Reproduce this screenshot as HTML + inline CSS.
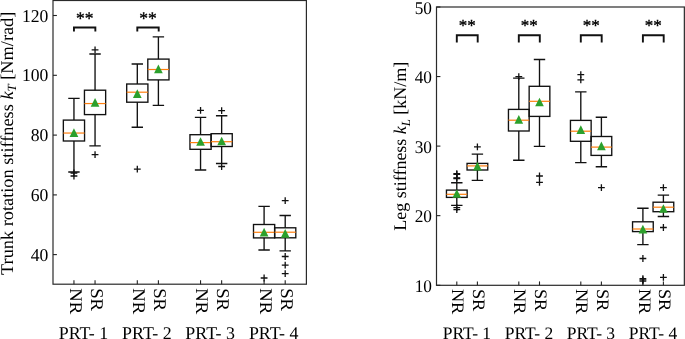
<!DOCTYPE html>
<html><head><meta charset="utf-8"><title>Stiffness box plots</title>
<style>
html,body{margin:0;padding:0;background:#fff;}
body{width:685px;height:339px;overflow:hidden;}
svg{display:block;will-change:transform;font-family:"Liberation Serif",serif;fill:#000;text-rendering:geometricPrecision;}
.a{fill:none;stroke:#2a2a2a;stroke-width:1.2;}
.t{fill:none;stroke:#222;stroke-width:1.1;}
.k{fill:none;stroke:#111;stroke-width:1.35;}
.m{fill:none;stroke:#ff7f0e;stroke-width:1.2;}
.f{fill:none;stroke:#111;stroke-width:1.3;}
.g{fill:#2ca02c;stroke:none;}
.b{fill:none;stroke:#111;stroke-width:1.9;}
</style></head>
<body>
<svg width="685" height="339" viewBox="0 0 685 339">
<rect x="53.0" y="0.5" width="253.39999999999998" height="283.7" class="a"/>
<path d="M53.0 15.5h3.9" class="t"/>
<text transform="translate(48.4,21.6) scale(0.985,1.01)" text-anchor="end" font-size="17.9">120</text>
<path d="M53.0 75.3h3.9" class="t"/>
<text transform="translate(48.4,81.39999999999999) scale(0.985,1.01)" text-anchor="end" font-size="17.9">100</text>
<path d="M53.0 135.1h3.9" class="t"/>
<text transform="translate(48.4,141.2) scale(0.985,1.01)" text-anchor="end" font-size="17.9">80</text>
<path d="M53.0 194.9h3.9" class="t"/>
<text transform="translate(48.4,201.0) scale(0.985,1.01)" text-anchor="end" font-size="17.9">60</text>
<path d="M53.0 254.6h3.9" class="t"/>
<text transform="translate(48.4,260.7) scale(0.985,1.01)" text-anchor="end" font-size="17.9">40</text>
<path d="M73.95 284.2v-3.9" class="t"/>
<text transform="translate(69.55,288.2) rotate(90) scale(1.045,1)" font-size="17.9">NR</text>
<path d="M95.05 284.2v-3.9" class="t"/>
<text transform="translate(90.64999999999999,288.2) rotate(90) scale(1.045,1)" font-size="17.9">SR</text>
<path d="M137.3 284.2v-3.9" class="t"/>
<text transform="translate(132.9,288.2) rotate(90) scale(1.045,1)" font-size="17.9">NR</text>
<path d="M158.4 284.2v-3.9" class="t"/>
<text transform="translate(154.0,288.2) rotate(90) scale(1.045,1)" font-size="17.9">SR</text>
<path d="M200.55 284.2v-3.9" class="t"/>
<text transform="translate(196.15,288.2) rotate(90) scale(1.045,1)" font-size="17.9">NR</text>
<path d="M221.65 284.2v-3.9" class="t"/>
<text transform="translate(217.25,288.2) rotate(90) scale(1.045,1)" font-size="17.9">SR</text>
<path d="M264.1 284.2v-3.9" class="t"/>
<text transform="translate(259.70000000000005,288.2) rotate(90) scale(1.045,1)" font-size="17.9">NR</text>
<path d="M285.2 284.2v-3.9" class="t"/>
<text transform="translate(280.8,288.2) rotate(90) scale(1.045,1)" font-size="17.9">SR</text>
<text x="83.5" y="338.85" text-anchor="middle" font-size="17.9">PRT- 1</text>
<text x="146.85000000000002" y="338.85" text-anchor="middle" font-size="17.9">PRT- 2</text>
<text x="210.10000000000002" y="338.85" text-anchor="middle" font-size="17.9">PRT- 3</text>
<text x="273.65" y="338.85" text-anchor="middle" font-size="17.9">PRT- 4</text>
<text transform="translate(12.7,143.3) rotate(-90) scale(1.023,1)" text-anchor="middle" font-size="17.9">Trunk rotation stiffness <tspan font-style="italic">k</tspan><tspan font-style="italic" font-size="12.529999999999998" dy="3.5">T</tspan><tspan dy="-3.5"> [Nm/rad]</tspan></text>
<path d="M73.95 120.1V98.3M73.95 141.0V172.0M68.25 98.3H79.65M68.25 172.0H79.65" class="k"/>
<rect x="63.35" y="120.1" width="21.20" height="20.90" class="k"/>
<path d="M63.35 133.05H84.55" class="m"/>
<path d="M70.55 173.0H77.35000000000001M73.95 169.6V176.4" class="f"/>
<path d="M70.55 176.0H77.35000000000001M73.95 172.6V179.4" class="f"/>
<path d="M73.95 128.35L78.3 137.04999999999998H69.60000000000001Z" class="g"/>
<path d="M95.05 90.2V54.0M95.05 114.6V145.9M89.35 54.0H100.75M89.35 145.9H100.75" class="k"/>
<rect x="84.45" y="90.2" width="21.20" height="24.40" class="k"/>
<path d="M84.45 103.55H105.65" class="m"/>
<path d="M91.64999999999999 49.8H98.45M95.05 46.4V53.199999999999996" class="f"/>
<path d="M91.64999999999999 154.6H98.45M95.05 151.2V158.0" class="f"/>
<path d="M95.05 97.95L99.39999999999999 106.64999999999999H90.7Z" class="g"/>
<path d="M137.3 84.0V64.0M137.3 102.2V127.2M131.60000000000002 64.0H143.0M131.60000000000002 127.2H143.0" class="k"/>
<rect x="126.70" y="84.0" width="21.20" height="18.20" class="k"/>
<path d="M126.70 92.2H147.90" class="m"/>
<path d="M133.9 169.2H140.70000000000002M137.3 165.79999999999998V172.6" class="f"/>
<path d="M137.3 89.35000000000001L141.65 98.05H132.95000000000002Z" class="g"/>
<path d="M158.4 59.1V36.8M158.4 79.9V105.4M152.70000000000002 36.8H164.1M152.70000000000002 105.4H164.1" class="k"/>
<rect x="147.80" y="59.1" width="21.20" height="20.80" class="k"/>
<path d="M147.80 69.5H169.00" class="m"/>
<path d="M158.4 64.45L162.75 73.14999999999999H154.05Z" class="g"/>
<path d="M200.55 134.7V117.4M200.55 149.3V170.0M194.85000000000002 117.4H206.25M194.85000000000002 170.0H206.25" class="k"/>
<rect x="189.95" y="134.7" width="21.20" height="14.60" class="k"/>
<path d="M189.95 142.6H211.15" class="m"/>
<path d="M197.15 110.3H203.95000000000002M200.55 106.89999999999999V113.7" class="f"/>
<path d="M200.55 137.15L204.9 145.85H196.20000000000002Z" class="g"/>
<path d="M221.65 133.7V115.7M221.65 146.5V163.5M215.95000000000002 115.7H227.35M215.95000000000002 163.5H227.35" class="k"/>
<rect x="211.05" y="133.7" width="21.20" height="12.80" class="k"/>
<path d="M211.05 141.7H232.25" class="m"/>
<path d="M218.25 110.7H225.05M221.65 107.3V114.10000000000001" class="f"/>
<path d="M218.25 166.5H225.05M221.65 163.1V169.9" class="f"/>
<path d="M221.65 136.65L226.0 145.35H217.3Z" class="g"/>
<path d="M264.1 224.5V206.3M264.1 237.9V250.0M258.40000000000003 206.3H269.8M258.40000000000003 250.0H269.8" class="k"/>
<rect x="253.50" y="224.5" width="21.20" height="13.40" class="k"/>
<path d="M253.50 232.3H274.70" class="m"/>
<path d="M260.70000000000005 278.0H267.5M264.1 274.6V281.4" class="f"/>
<path d="M264.1 227.75L268.45000000000005 236.45H259.75Z" class="g"/>
<path d="M285.2 227.8V215.5M285.2 237.8V250.8M279.5 215.5H290.9M279.5 250.8H290.9" class="k"/>
<rect x="274.60" y="227.8" width="21.20" height="10.00" class="k"/>
<path d="M274.60 232.2H295.80" class="m"/>
<path d="M281.8 200.7H288.59999999999997M285.2 197.29999999999998V204.1" class="f"/>
<path d="M281.8 256.5H288.59999999999997M285.2 253.1V259.9" class="f"/>
<path d="M281.8 265.1H288.59999999999997M285.2 261.70000000000005V268.5" class="f"/>
<path d="M281.8 273.6H288.59999999999997M285.2 270.20000000000005V277.0" class="f"/>
<path d="M285.2 228.95000000000002L289.55 237.65H280.84999999999997Z" class="g"/>
<path d="M73.95 31.6V27.5H95.35V31.6" class="b"/><text x="84.65" y="24.2" text-anchor="middle" font-size="17.5" stroke="#000" stroke-width="0.35">**</text>
<path d="M137.3 31.6V27.5H158.70000000000002V31.6" class="b"/><text x="148.0" y="24.2" text-anchor="middle" font-size="17.5" stroke="#000" stroke-width="0.35">**</text>
<rect x="436.5" y="7.0" width="247.85000000000002" height="278.3" class="a"/>
<path d="M436.5 7.0h3.9" class="t"/>
<text transform="translate(432.0,13.6) scale(0.99,1.02)" text-anchor="end" font-size="17.5">50</text>
<path d="M436.5 76.55h3.9" class="t"/>
<text transform="translate(432.0,83.14999999999999) scale(0.99,1.02)" text-anchor="end" font-size="17.5">40</text>
<path d="M436.5 146.1h3.9" class="t"/>
<text transform="translate(432.0,152.7) scale(0.99,1.02)" text-anchor="end" font-size="17.5">30</text>
<path d="M436.5 215.65h3.9" class="t"/>
<text transform="translate(432.0,222.25) scale(0.99,1.02)" text-anchor="end" font-size="17.5">20</text>
<path d="M436.5 285.3h3.9" class="t"/>
<text transform="translate(432.0,291.90000000000003) scale(0.99,1.02)" text-anchor="end" font-size="17.5">10</text>
<path d="M456.8 285.3v-3.9" class="t"/>
<text transform="translate(452.40000000000003,288.90000000000003) rotate(90) scale(1.045,1)" font-size="17.5">NR</text>
<path d="M477.4 285.3v-3.9" class="t"/>
<text transform="translate(473.0,288.90000000000003) rotate(90) scale(1.045,1)" font-size="17.5">SR</text>
<path d="M518.8 285.3v-3.9" class="t"/>
<text transform="translate(514.4,288.90000000000003) rotate(90) scale(1.045,1)" font-size="17.5">NR</text>
<path d="M539.5 285.3v-3.9" class="t"/>
<text transform="translate(535.1,288.90000000000003) rotate(90) scale(1.045,1)" font-size="17.5">SR</text>
<path d="M580.8 285.3v-3.9" class="t"/>
<text transform="translate(576.4,288.90000000000003) rotate(90) scale(1.045,1)" font-size="17.5">NR</text>
<path d="M601.4 285.3v-3.9" class="t"/>
<text transform="translate(597.0,288.90000000000003) rotate(90) scale(1.045,1)" font-size="17.5">SR</text>
<path d="M642.9 285.3v-3.9" class="t"/>
<text transform="translate(638.5,288.90000000000003) rotate(90) scale(1.045,1)" font-size="17.5">NR</text>
<path d="M663.4 285.3v-3.9" class="t"/>
<text transform="translate(659.0,288.90000000000003) rotate(90) scale(1.045,1)" font-size="17.5">SR</text>
<text x="466.90000000000003" y="338.85" text-anchor="middle" font-size="17.5">PRT- 1</text>
<text x="528.9499999999999" y="338.85" text-anchor="middle" font-size="17.5">PRT- 2</text>
<text x="590.8999999999999" y="338.85" text-anchor="middle" font-size="17.5">PRT- 3</text>
<text x="652.9499999999999" y="338.85" text-anchor="middle" font-size="17.5">PRT- 4</text>
<text transform="translate(406.4,146.2) rotate(-90) scale(1.028,1.02)" text-anchor="middle" font-size="17.5">Leg stiffness <tspan font-style="italic">k</tspan><tspan font-style="italic" font-size="12.25" dy="3.5">L</tspan><tspan dy="-3.5"> [kN/m]</tspan></text>
<path d="M456.8 190.1V182.7M456.8 197.4V205.4M451.1 182.7H462.5M451.1 205.4H462.5" class="k"/>
<rect x="446.45" y="190.1" width="20.70" height="7.30" class="k"/>
<path d="M446.45 194.3H467.15" class="m"/>
<path d="M453.40000000000003 173.7H460.2M456.8 170.29999999999998V177.1" class="f"/>
<path d="M453.40000000000003 174.4H460.2M456.8 171.0V177.8" class="f"/>
<path d="M453.40000000000003 177.9H460.2M456.8 174.5V181.3" class="f"/>
<path d="M453.40000000000003 178.5H460.2M456.8 175.1V181.9" class="f"/>
<path d="M453.40000000000003 207.7H460.2M456.8 204.29999999999998V211.1" class="f"/>
<path d="M453.40000000000003 209.7H460.2M456.8 206.29999999999998V213.1" class="f"/>
<path d="M456.8 189.15L461.15000000000003 197.85H452.45Z" class="g"/>
<path d="M477.4 163.4V154.1M477.4 170.0V180.3M471.7 154.1H483.09999999999997M471.7 180.3H483.09999999999997" class="k"/>
<rect x="467.05" y="163.4" width="20.70" height="6.60" class="k"/>
<path d="M467.05 165.9H487.75" class="m"/>
<path d="M474.0 146.8H480.79999999999995M477.4 143.4V150.20000000000002" class="f"/>
<path d="M477.4 161.85L481.75 170.54999999999998H473.04999999999995Z" class="g"/>
<path d="M518.8 109.4V78.1M518.8 131.0V160.2M513.0999999999999 78.1H524.5M513.0999999999999 160.2H524.5" class="k"/>
<rect x="508.45" y="109.4" width="20.70" height="21.60" class="k"/>
<path d="M508.45 120.2H529.15" class="m"/>
<path d="M515.4 76.6H522.1999999999999M518.8 73.19999999999999V80.0" class="f"/>
<path d="M518.8 115.05000000000001L523.15 123.75H514.4499999999999Z" class="g"/>
<path d="M539.5 86.3V59.5M539.5 116.4V146.3M533.8 59.5H545.2M533.8 146.3H545.2" class="k"/>
<rect x="529.15" y="86.3" width="20.70" height="30.10" class="k"/>
<path d="M529.15 101.3H549.85" class="m"/>
<path d="M536.1 176.0H542.9M539.5 172.6V179.4" class="f"/>
<path d="M536.1 182.3H542.9M539.5 178.9V185.70000000000002" class="f"/>
<path d="M539.5 97.65L543.85 106.35H535.15Z" class="g"/>
<path d="M580.8 120.4V91.8M580.8 141.3V162.6M575.0999999999999 91.8H586.5M575.0999999999999 162.6H586.5" class="k"/>
<rect x="570.45" y="120.4" width="20.70" height="20.90" class="k"/>
<path d="M570.45 131.2H591.15" class="m"/>
<path d="M577.4 74.7H584.1999999999999M580.8 71.3V78.10000000000001" class="f"/>
<path d="M577.4 79.8H584.1999999999999M580.8 76.39999999999999V83.2" class="f"/>
<path d="M580.8 125.35L585.15 134.04999999999998H576.4499999999999Z" class="g"/>
<path d="M601.4 136.5V117.2M601.4 155.4V166.7M595.6999999999999 117.2H607.1M595.6999999999999 166.7H607.1" class="k"/>
<rect x="591.05" y="136.5" width="20.70" height="18.90" class="k"/>
<path d="M591.05 147.1H611.75" class="m"/>
<path d="M598.0 187.6H604.8M601.4 184.2V191.0" class="f"/>
<path d="M601.4 141.45000000000002L605.75 150.15H597.05Z" class="g"/>
<path d="M642.9 221.8V208.2M642.9 231.6V244.6M637.1999999999999 208.2H648.6M637.1999999999999 244.6H648.6" class="k"/>
<rect x="632.55" y="221.8" width="20.70" height="9.80" class="k"/>
<path d="M632.55 229.0H653.25" class="m"/>
<path d="M639.5 258.5H646.3M642.9 255.1V261.9" class="f"/>
<path d="M639.5 278.7H646.3M642.9 275.3V282.09999999999997" class="f"/>
<path d="M639.5 279.9H646.3M642.9 276.5V283.29999999999995" class="f"/>
<path d="M639.5 281.1H646.3M642.9 277.70000000000005V284.5" class="f"/>
<path d="M642.9 224.75L647.25 233.45H638.55Z" class="g"/>
<path d="M663.4 202.2V195.1M663.4 211.7V216.5M657.6999999999999 195.1H669.1M657.6999999999999 216.5H669.1" class="k"/>
<rect x="653.05" y="202.2" width="20.70" height="9.50" class="k"/>
<path d="M653.05 207.2H673.75" class="m"/>
<path d="M660.0 187.6H666.8M663.4 184.2V191.0" class="f"/>
<path d="M660.0 227.5H666.8M663.4 224.1V230.9" class="f"/>
<path d="M660.0 277.45H666.8M663.4 274.05V280.84999999999997" class="f"/>
<path d="M663.4 204.15L667.75 212.85H659.05Z" class="g"/>
<path d="M456.8 42.5V35.3H477.7V42.5" class="b"/><text x="467.25" y="31.4" text-anchor="middle" font-size="17" stroke="#000" stroke-width="0.35">**</text>
<path d="M518.8 42.5V35.3H539.8V42.5" class="b"/><text x="529.3" y="31.4" text-anchor="middle" font-size="17" stroke="#000" stroke-width="0.35">**</text>
<path d="M580.8 42.5V35.3H601.6999999999999V42.5" class="b"/><text x="591.25" y="31.4" text-anchor="middle" font-size="17" stroke="#000" stroke-width="0.35">**</text>
<path d="M642.9 42.5V35.3H663.6999999999999V42.5" class="b"/><text x="653.3" y="31.4" text-anchor="middle" font-size="17" stroke="#000" stroke-width="0.35">**</text>
</svg>
</body></html>
